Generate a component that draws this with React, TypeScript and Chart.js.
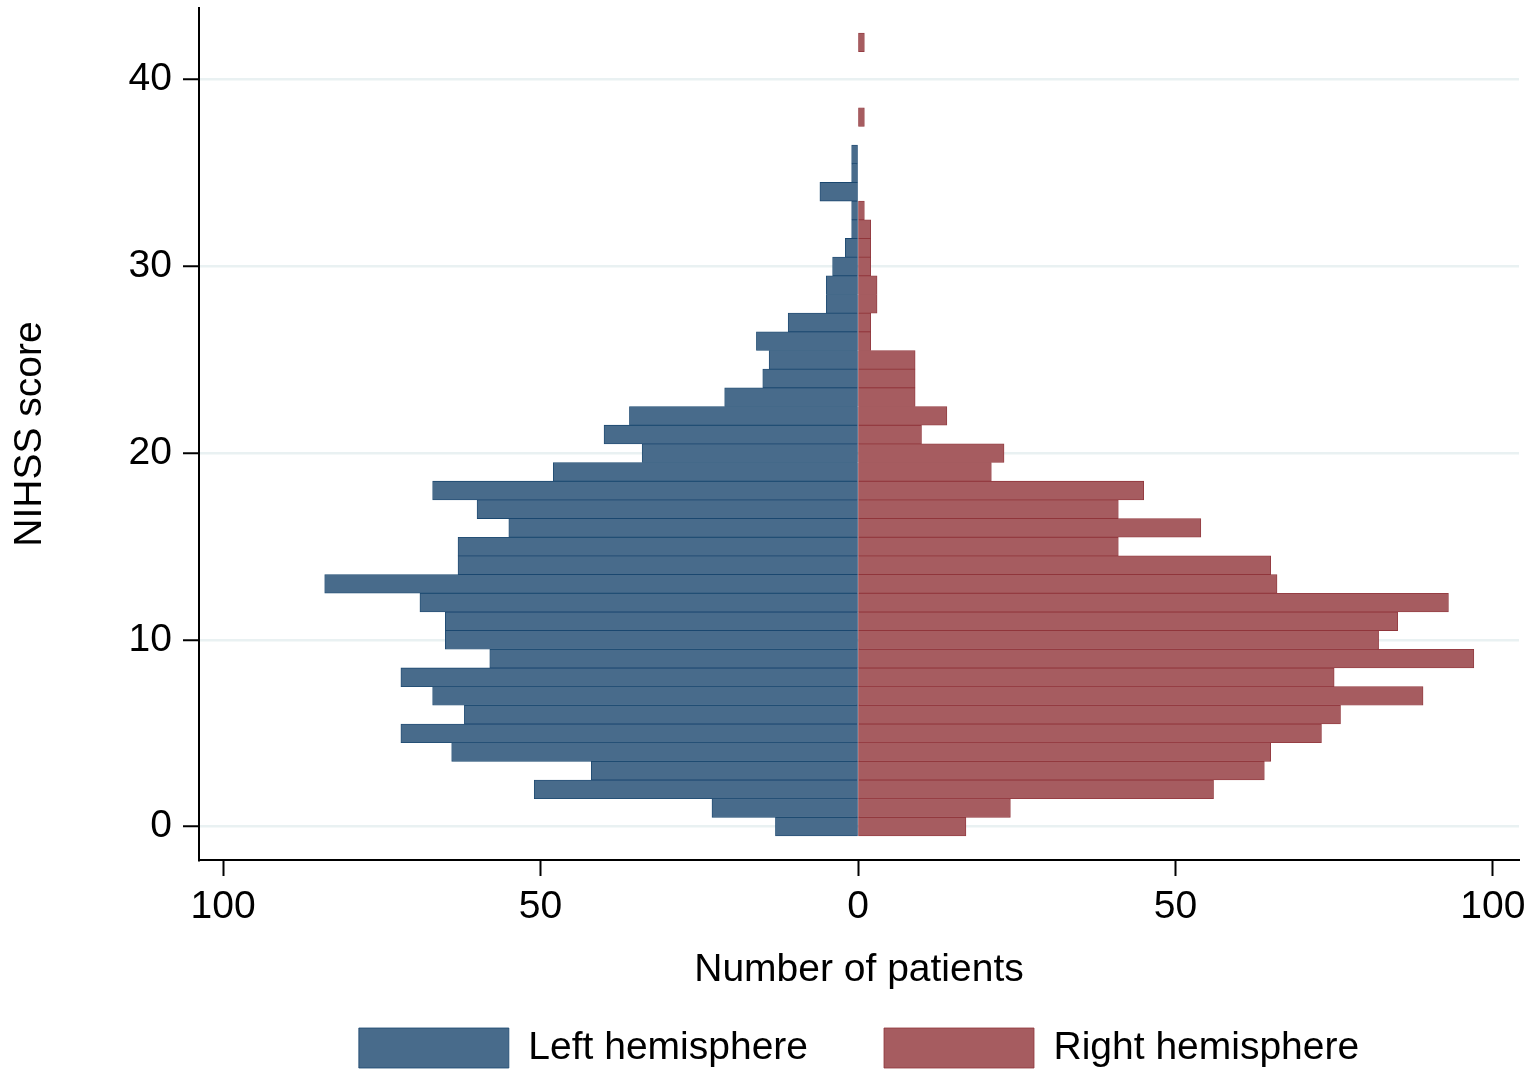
import React, { useEffect, useRef } from 'react';
import { Chart, registerables } from 'chart.js';

Chart.register(...registerables);

// NIHSS score categories (one bar per score)
const nihssScores = [
  0, 1, 2, 3, 4, 5, 6, 7, 8, 9, 10, 11, 12, 13, 14, 15, 16, 17, 18, 19, 20,
  21, 22, 23, 24, 25, 26, 27, 28, 29, 30, 31, 32, 33, 34, 35, 36, 37, 38, 39, 40,
  41, 42,
];

// Number of patients per NIHSS score
const leftHemisphere = [
  13, 23, 51, 42, 64, 72, 62, 67, 72, 58, 65, 65, 69, 84, 63, 63, 55, 60, 67, 48, 34,
  40, 36, 21, 15, 14, 16, 11, 5, 5, 4, 2, 1, 1, 6, 1, 1, 0, 0, 0, 0,
  0, 0,
];
const rightHemisphere = [
  17, 24, 56, 64, 65, 73, 76, 89, 75, 97, 82, 85, 93, 66, 65, 41, 54, 41, 45, 21, 23,
  10, 14, 9, 9, 9, 2, 2, 3, 3, 2, 2, 2, 1, 0, 0, 0, 0, 1, 0, 0,
  0, 1,
];

const seriesLabels = ['Left hemisphere', 'Right hemisphere'];
const xTickValues = [-100, -50, 0, 50, 100];
const yTickValues = [0, 10, 20, 30, 40];
const xAxisTitle = 'Number of patients';
const yAxisTitle = 'NIHSS score';

const FONT = "'Liberation Sans', Arial, Helvetica, sans-serif";
const FONT_SIZE = 39;

export default function App() {
  const canvasRef = useRef<HTMLCanvasElement>(null);

  useEffect(() => {
    const canvas = canvasRef.current;
    if (!canvas) return;

    const leftData = nihssScores
      .map((s, i) => ({ x: -leftHemisphere[i], y: s }))
      .filter((p) => p.x !== 0);
    const rightData = nihssScores
      .map((s, i) => ({ x: rightHemisphere[i], y: s }))
      .filter((p) => p.x !== 0);

    const font = { family: FONT, size: FONT_SIZE };

    const chart = new Chart(canvas, {
      type: 'bar',
      data: {
        datasets: [
          {
            label: seriesLabels[0],
            data: leftData,
            backgroundColor: 'rgb(72,107,139)',
            borderColor: 'rgb(26,71,111)',
            borderWidth: 0.8,
            borderSkipped: false,
            barPercentage: 1,
            categoryPercentage: 1,
          },
          {
            label: seriesLabels[1],
            data: rightData,
            backgroundColor: 'rgb(166,92,96)',
            borderColor: 'rgb(144,53,59)',
            borderWidth: 0.8,
            borderSkipped: false,
            barPercentage: 1,
            categoryPercentage: 1,
          },
        ],
      },
      options: {
        indexAxis: 'y',
        animation: false,
        responsive: true,
        maintainAspectRatio: false,
        layout: { padding: { left: 0, right: 16, top: 8, bottom: -3 } },
        plugins: {
          tooltip: { enabled: false },
          legend: {
            display: true,
            position: 'bottom',
            fullSize: false,
            labels: {
              boxWidth: 150,
              boxHeight: 40,
              padding: 76,
              color: '#000',
              font,
            },
          },
        },
        scales: {
          x: {
            type: 'linear',
            stacked: true,
            min: -103.8,
            max: 104.115,
            afterBuildTicks: (axis: any) => {
              axis.ticks = xTickValues.map((value) => ({ value }));
            },
            afterFit: (axis: any) => {
              axis.height = 92;
              axis.paddingLeft = 0;
              axis.paddingRight = 0;
              axis.paddingTop = 0;
              axis.paddingBottom = 0;
            },
            ticks: {
              color: '#000',
              font,
              padding: 8,
              maxRotation: 0,
              autoSkip: false,
              callback: (value: any) => String(Math.abs(Number(value))),
            },
            grid: {
              drawOnChartArea: false,
              drawTicks: true,
              tickLength: 16,
              tickColor: '#000',
              tickWidth: 2,
            },
            border: { display: true, color: '#000', width: 2 },
            title: {
              display: true,
              text: xAxisTitle,
              color: '#000',
              font,
              padding: { top: 0, bottom: -41.4 },
            },
          },
          y: {
            type: 'linear',
            stacked: true,
            offset: false,
            min: -1.785,
            max: 43.84,
            afterBuildTicks: (axis: any) => {
              axis.ticks = yTickValues.map((value) => ({ value }));
            },
            afterFit: (axis: any) => {
              axis.width = 199;
              axis.paddingLeft = 0;
              axis.paddingRight = 0;
              axis.paddingTop = 0;
              axis.paddingBottom = 0;
            },
            ticks: {
              color: '#000',
              font,
              padding: 11,
              autoSkip: false,
            },
            grid: {
              offset: false,
              color: '#e9f1f2',
              lineWidth: 2.5,
              drawTicks: true,
              tickLength: 16,
              tickColor: '#000',
              tickWidth: 2,
            },
            border: { display: true, color: '#000', width: 2 },
            title: {
              display: true,
              text: yAxisTitle,
              color: '#000',
              font,
              padding: { top: 6.6, bottom: 0 },
            },
          },
        },
      },
    } as any);

    return () => chart.destroy();
  }, []);

  return (
    <div style={{ position: 'absolute', left: 0, top: 0, width: 1535, height: 1075 }}>
      <canvas ref={canvasRef} style={{ display: 'block' }} />
    </div>
  );
}
